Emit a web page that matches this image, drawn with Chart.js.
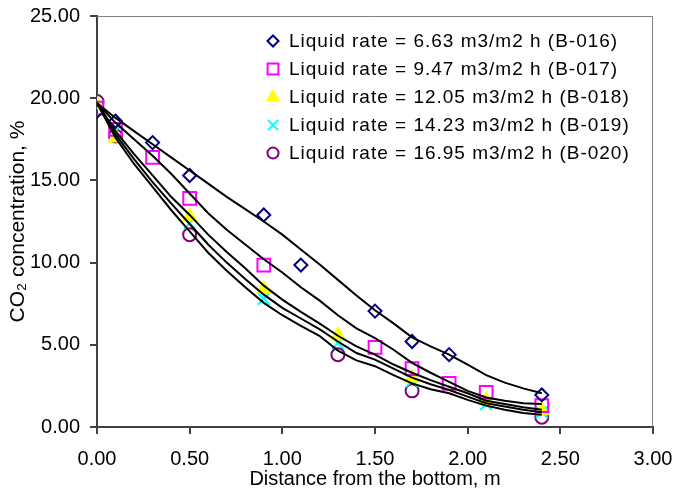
<!doctype html>
<html lang="en">
  <head>
    <meta charset="utf-8">
    <title>CO2 concentration vs distance from the bottom</title>
    <script src="https://cdn.jsdelivr.net/npm/chart.js"></script>
    <style>
      html, body { margin: 0; padding: 0; background: #fff; }
      .chart-box { width: 676px; height: 496px; }
    </style>
  </head>
  <body>
    <div class="chart-box"><canvas id="co2Chart"></canvas></div>
    <script>
      // model curves, sampled every 0.1 m
      const modelX = [0, 0.1, 0.2, 0.3, 0.4, 0.5, 0.6, 0.7, 0.8, 0.9, 1.0, 1.1, 1.2,
                      1.3, 1.4, 1.5, 1.6, 1.7, 1.8, 1.9, 2.0, 2.1, 2.2, 2.3, 2.4];
      const modelB016 = [19.7, 18.8, 18.0, 17.2, 16.4, 15.6, 14.8, 14.0, 13.25, 12.5, 11.7, 10.8, 9.9,
                         8.95, 8.0, 7.1, 6.3, 5.45, 4.9, 4.4, 3.8, 3.15, 2.7, 2.35, 2.05];
      const modelB017 = [19.7, 18.5, 17.5, 16.5, 15.4, 14.2, 13.0, 12.0, 11.1, 10.2, 9.4, 8.5, 7.7,
                         6.8, 6.0, 5.4, 4.7, 3.9, 3.3, 2.75, 2.2, 1.8, 1.6, 1.45, 1.4];
      const modelB018 = [19.7, 18.0, 16.6, 15.3, 14.0, 12.9, 11.7, 10.65, 9.65, 8.6, 7.75, 7.0, 6.3,
                         5.55, 4.9, 4.4, 3.8, 3.3, 2.85, 2.45, 2.05, 1.6, 1.4, 1.2, 1.05];
      const modelB019 = [19.7, 17.8, 16.3, 14.9, 13.6, 12.35, 11.1, 10.0, 9.0, 8.05, 7.25, 6.6, 5.95,
                         5.2, 4.5, 4.1, 3.55, 3.0, 2.6, 2.25, 1.85, 1.45, 1.25, 1.05, 0.9];
      const modelB020 = [19.7, 17.6, 16.0, 14.6, 13.2, 11.9, 10.6, 9.5, 8.5, 7.55, 6.8, 6.15, 5.55,
                         4.65, 4.05, 3.7, 3.15, 2.65, 2.3, 2.05, 1.65, 1.3, 1.05, 0.85, 0.75];

      // measured points
      const b016X = [0, 0.1, 0.3, 0.5, 0.9, 1.1, 1.5, 1.7, 1.9, 2.4];
      const b016Y = [19.2, 18.6, 17.3, 15.3, 12.9, 9.85, 7.05, 5.2, 4.4, 1.95];
      const b017X = [0, 0.1, 0.3, 0.5, 0.9, 1.5, 1.7, 1.9, 2.1, 2.4];
      const b017Y = [19.4, 18.1, 16.4, 13.9, 9.85, 4.85, 3.55, 2.65, 2.1, 1.3];
      const b018X = [0, 0.1, 0.5, 0.9, 1.3, 1.7, 2.1, 2.4];
      const b018Y = [19.6, 17.6, 12.8, 8.4, 5.55, 3.0, 1.6, 1.0];
      const b019X = [0, 0.1, 0.5, 0.9, 1.3, 1.7, 2.1, 2.4];
      const b019Y = [19.5, 18.0, 12.4, 7.8, 5.1, 2.8, 1.4, 0.9];
      const b020X = [0, 0.1, 0.5, 1.3, 1.7, 2.4];
      const b020Y = [19.8, 17.7, 11.7, 4.4, 2.2, 0.6];

      const seriesLabels = [
        'Liquid rate = 6.63 m3/m2 h (B-016)',
        'Liquid rate = 9.47 m3/m2 h (B-017)',
        'Liquid rate = 12.05 m3/m2 h (B-018)',
        'Liquid rate = 14.23 m3/m2 h (B-019)',
        'Liquid rate = 16.95 m3/m2 h (B-020)'
      ];
      const xTicks = [0, 0.5, 1.0, 1.5, 2.0, 2.5, 3.0];
      const yTicks = [0, 5, 10, 15, 20, 25];

      const FONT = '"Liberation Sans", Arial, sans-serif';
      const pts = (xs, ys) => xs.map((x, i) => ({ x: x, y: ys[i] }));

      const modelSets = [modelB016, modelB017, modelB018, modelB019, modelB020].map(ys => ({
        data: pts(modelX, ys),
        showLine: true,
        borderColor: '#000',
        borderWidth: 2,
        pointRadius: 0,
        tension: 0,
        order: 0
      }));

      const markers = [
        { xs: b016X, ys: b016Y, style: 'rectRot', radius: 6.5, color: '#000080', fill: 'rgba(0,0,0,0)' },
        { xs: b017X, ys: b017Y, style: 'rect', radius: 9, color: '#ff00ff', fill: 'rgba(0,0,0,0)' },
        { xs: b018X, ys: b018Y, style: 'triangle', radius: 7.5, color: '#ffff00', fill: '#ffff00' },
        { xs: b019X, ys: b019Y, style: 'crossRot', radius: 8.5, color: '#00ffff', fill: 'rgba(0,0,0,0)' },
        { xs: b020X, ys: b020Y, style: 'circle', radius: 6.5, color: '#800080', fill: 'rgba(0,0,0,0)' }
      ];

      const pointSets = markers.map((m, i) => ({
        label: seriesLabels[i],
        data: pts(m.xs, m.ys),
        showLine: false,
        pointStyle: m.style,
        pointRadius: m.radius,
        pointHoverRadius: m.radius,
        pointBorderWidth: 2,
        pointBorderColor: m.color,
        pointBackgroundColor: m.fill,
        borderColor: m.color,
        backgroundColor: m.fill,
        order: 1
      }));

      // top and right edges of the plot box
      const frame = {
        id: 'frame',
        beforeDatasetsDraw(chart) {
          const a = chart.chartArea, ctx = chart.ctx;
          ctx.save();
          ctx.strokeStyle = '#808080';
          ctx.lineWidth = 1;
          ctx.beginPath();
          ctx.moveTo(a.left, a.top + 0.5);
          ctx.lineTo(a.right - 0.5, a.top + 0.5);
          ctx.lineTo(a.right - 0.5, a.bottom);
          ctx.stroke();
          ctx.restore();
        }
      };

      // legend drawn inside the plot area
      const insideLegend = {
        id: 'insideLegend',
        afterDraw(chart) {
          const a = chart.chartArea, ctx = chart.ctx;
          const mx = a.left + 176, tx = a.left + 192;
          ctx.save();
          ctx.font = '19px ' + FONT;
          if ('letterSpacing' in ctx) ctx.letterSpacing = '1px';
          ctx.textBaseline = 'middle';
          markers.forEach((m, i) => {
            const y = a.top + 25 + i * 28;
            ctx.strokeStyle = m.color;
            ctx.fillStyle = m.fill;
            ctx.lineWidth = 2;
            Chart.helpers.drawPoint(ctx, { pointStyle: m.style, radius: m.radius * 0.85, borderWidth: 2, rotation: 0 }, mx, y);
            ctx.fillStyle = '#000';
            ctx.fillText(seriesLabels[i], tx, y + 1);
          });
          ctx.restore();
        }
      };

      const axisLine = { display: true, color: '#404040', width: 2 };
      const tickMarks = { display: true, drawOnChartArea: false, drawTicks: true, tickLength: 7, color: '#404040', lineWidth: 2 };

      new Chart(document.getElementById('co2Chart'), {
        type: 'scatter',
        data: { datasets: modelSets.concat(pointSets) },
        options: {
          responsive: true,
          maintainAspectRatio: false,
          animation: false,
          layout: { padding: { top: 16, right: 23, left: 0, bottom: 0 } },
          plugins: {
            legend: { display: false },
            tooltip: { enabled: false }
          },
          scales: {
            x: {
              type: 'linear',
              min: 0, max: 3,
              afterFit: s => { s.height = 69; s.paddingLeft = 0; s.paddingRight = 0; },
              afterBuildTicks: s => { s.ticks = xTicks.map(v => ({ value: v })); },
              ticks: {
                autoSkip: false, maxRotation: 0, padding: 13, color: '#000',
                font: { family: FONT, size: 20 },
                callback: v => Number(v).toFixed(2)
              },
              grid: tickMarks,
              border: axisLine,
              title: {
                display: true, text: 'Distance from the bottom, m', color: '#000',
                font: { family: FONT, size: 20 }, padding: { top: 0, bottom: 5 }
              }
            },
            y: {
              type: 'linear',
              min: 0, max: 25,
              afterFit: s => { s.width = 97; s.paddingTop = 0; s.paddingBottom = 0; },
              afterBuildTicks: s => { s.ticks = yTicks.map(v => ({ value: v })); },
              ticks: {
                autoSkip: false, padding: 10, color: '#000',
                font: { family: FONT, size: 20 },
                callback: v => Number(v).toFixed(2)
              },
              grid: tickMarks,
              border: axisLine,
              title: {
                display: true, text: 'CO\u2082 concentration, %', color: '#000',
                font: { family: FONT, size: 21 }, padding: { top: 6, bottom: 0 }
              }
            }
          }
        },
        plugins: [frame, insideLegend]
      });
    </script>
  </body>
</html>
